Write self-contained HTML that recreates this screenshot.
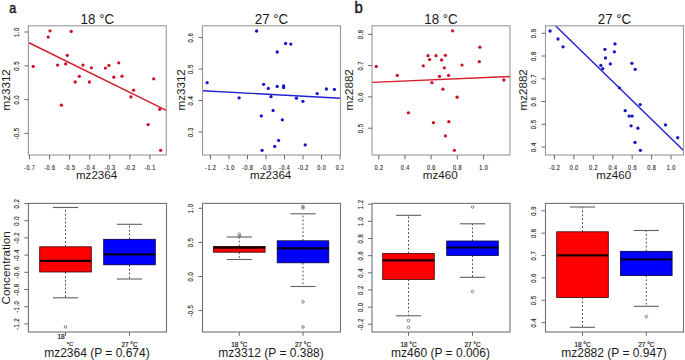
<!DOCTYPE html><html><head><meta charset="utf-8"><style>html,body{margin:0;padding:0;background:#fff;width:685px;height:360px;overflow:hidden}svg{display:block;font-family:"Liberation Sans", sans-serif}</style></head><body>
<svg width="685" height="360" viewBox="0 0 685 360">
<rect width="685" height="360" fill="#fff"/>
<text transform="translate(9.3,13.0) scale(0.82,1)" font-size="15.2" fill="#1a1a1a" stroke="#1a1a1a" stroke-width="0.5">a</text>
<text transform="translate(354.4,12.7) scale(0.93,1)" font-size="16" fill="#1a1a1a" stroke="#1a1a1a" stroke-width="0.5">b</text>
<circle cx="50.0" cy="30.8" r="1.65" fill="#cc1226"/>
<circle cx="71.2" cy="31.4" r="1.65" fill="#cc1226"/>
<circle cx="48.2" cy="37.1" r="1.65" fill="#cc1226"/>
<circle cx="33.2" cy="66.4" r="1.65" fill="#cc1226"/>
<circle cx="57.6" cy="65.1" r="1.65" fill="#cc1226"/>
<circle cx="65.7" cy="63.9" r="1.65" fill="#cc1226"/>
<circle cx="67.3" cy="55.3" r="1.65" fill="#cc1226"/>
<circle cx="83.0" cy="65.1" r="1.65" fill="#cc1226"/>
<circle cx="91.4" cy="67.8" r="1.65" fill="#cc1226"/>
<circle cx="79.3" cy="76.3" r="1.65" fill="#cc1226"/>
<circle cx="75.2" cy="82.0" r="1.65" fill="#cc1226"/>
<circle cx="89.4" cy="82.0" r="1.65" fill="#cc1226"/>
<circle cx="105.4" cy="68.1" r="1.65" fill="#cc1226"/>
<circle cx="108.9" cy="65.4" r="1.65" fill="#cc1226"/>
<circle cx="118.7" cy="62.8" r="1.65" fill="#cc1226"/>
<circle cx="113.8" cy="77.2" r="1.65" fill="#cc1226"/>
<circle cx="122.0" cy="76.2" r="1.65" fill="#cc1226"/>
<circle cx="153.7" cy="78.8" r="1.65" fill="#cc1226"/>
<circle cx="133.6" cy="90.2" r="1.65" fill="#cc1226"/>
<circle cx="130.9" cy="96.9" r="1.65" fill="#cc1226"/>
<circle cx="159.7" cy="109.3" r="1.65" fill="#cc1226"/>
<circle cx="61.4" cy="105.2" r="1.65" fill="#cc1226"/>
<circle cx="148.1" cy="124.6" r="1.65" fill="#cc1226"/>
<circle cx="160.6" cy="150.3" r="1.65" fill="#cc1226"/>
<line x1="28.4" y1="42.5" x2="166.3" y2="110.3" stroke="#d41c2c" stroke-width="1.4"/>
<rect x="28.4" y="25.8" width="137.90" height="129.20" fill="none" stroke="#989898" stroke-width="1.1"/>
<line x1="24.40" y1="32.00" x2="28.40" y2="32.00" stroke="#6a6a6a" stroke-width="1"/>
<text transform="translate(19.10,32.08) rotate(-90) scale(0.76,1)" text-anchor="middle" letter-spacing="0.6" font-size="7.9" fill="#1e1e1e" stroke="#1e1e1e" stroke-width="0.14">1.0</text>
<line x1="24.40" y1="65.80" x2="28.40" y2="65.80" stroke="#6a6a6a" stroke-width="1"/>
<text transform="translate(19.10,65.88) rotate(-90) scale(0.76,1)" text-anchor="middle" letter-spacing="0.6" font-size="7.9" fill="#1e1e1e" stroke="#1e1e1e" stroke-width="0.14">0.5</text>
<line x1="24.40" y1="99.60" x2="28.40" y2="99.60" stroke="#6a6a6a" stroke-width="1"/>
<text transform="translate(19.10,99.68) rotate(-90) scale(0.76,1)" text-anchor="middle" letter-spacing="0.6" font-size="7.9" fill="#1e1e1e" stroke="#1e1e1e" stroke-width="0.14">0.0</text>
<line x1="24.40" y1="133.40" x2="28.40" y2="133.40" stroke="#6a6a6a" stroke-width="1"/>
<text transform="translate(19.10,133.48) rotate(-90) scale(0.76,1)" text-anchor="middle" letter-spacing="0.6" font-size="7.9" fill="#1e1e1e" stroke="#1e1e1e" stroke-width="0.14">-0.5</text>
<line x1="29.50" y1="155.00" x2="29.50" y2="159.40" stroke="#6a6a6a" stroke-width="1"/>
<text transform="translate(29.72,169.60) scale(0.74,1)" text-anchor="middle" letter-spacing="0.6" font-size="7.4" fill="#1e1e1e" stroke="#1e1e1e" stroke-width="0.14">-0.7</text>
<line x1="49.57" y1="155.00" x2="49.57" y2="159.40" stroke="#6a6a6a" stroke-width="1"/>
<text transform="translate(49.79,169.60) scale(0.74,1)" text-anchor="middle" letter-spacing="0.6" font-size="7.4" fill="#1e1e1e" stroke="#1e1e1e" stroke-width="0.14">-0.6</text>
<line x1="69.64" y1="155.00" x2="69.64" y2="159.40" stroke="#6a6a6a" stroke-width="1"/>
<text transform="translate(69.86,169.60) scale(0.74,1)" text-anchor="middle" letter-spacing="0.6" font-size="7.4" fill="#1e1e1e" stroke="#1e1e1e" stroke-width="0.14">-0.5</text>
<line x1="89.71" y1="155.00" x2="89.71" y2="159.40" stroke="#6a6a6a" stroke-width="1"/>
<text transform="translate(89.93,169.60) scale(0.74,1)" text-anchor="middle" letter-spacing="0.6" font-size="7.4" fill="#1e1e1e" stroke="#1e1e1e" stroke-width="0.14">-0.4</text>
<line x1="109.78" y1="155.00" x2="109.78" y2="159.40" stroke="#6a6a6a" stroke-width="1"/>
<text transform="translate(110.00,169.60) scale(0.74,1)" text-anchor="middle" letter-spacing="0.6" font-size="7.4" fill="#1e1e1e" stroke="#1e1e1e" stroke-width="0.14">-0.3</text>
<line x1="129.85" y1="155.00" x2="129.85" y2="159.40" stroke="#6a6a6a" stroke-width="1"/>
<text transform="translate(130.07,169.60) scale(0.74,1)" text-anchor="middle" letter-spacing="0.6" font-size="7.4" fill="#1e1e1e" stroke="#1e1e1e" stroke-width="0.14">-0.2</text>
<line x1="149.92" y1="155.00" x2="149.92" y2="159.40" stroke="#6a6a6a" stroke-width="1"/>
<text transform="translate(150.14,169.60) scale(0.74,1)" text-anchor="middle" letter-spacing="0.6" font-size="7.4" fill="#1e1e1e" stroke="#1e1e1e" stroke-width="0.14">-0.1</text>
<text transform="translate(97.35,23.7) scale(0.92,1)" text-anchor="middle" font-size="14.5" fill="#1a1a1a">18 °C</text>
<text x="96.55" y="179.0" text-anchor="middle" font-size="11.6" fill="#1a1a1a">mz2364</text>
<text transform="translate(10.10,89.8) rotate(-90)" text-anchor="middle" font-size="11.6" fill="#1a1a1a">mz3312</text>
<circle cx="256.6" cy="31.0" r="1.65" fill="#1414c8"/>
<circle cx="207.1" cy="82.7" r="1.65" fill="#1414c8"/>
<circle cx="263.6" cy="84.3" r="1.65" fill="#1414c8"/>
<circle cx="268.3" cy="88.4" r="1.65" fill="#1414c8"/>
<circle cx="285.6" cy="43.5" r="1.65" fill="#1414c8"/>
<circle cx="290.8" cy="44.1" r="1.65" fill="#1414c8"/>
<circle cx="277.2" cy="52.0" r="1.65" fill="#1414c8"/>
<circle cx="277.2" cy="86.4" r="1.65" fill="#1414c8"/>
<circle cx="283.6" cy="85.9" r="1.65" fill="#1414c8"/>
<circle cx="283.6" cy="87.6" r="1.65" fill="#1414c8"/>
<circle cx="326.4" cy="89.0" r="1.65" fill="#1414c8"/>
<circle cx="334.4" cy="89.4" r="1.65" fill="#1414c8"/>
<circle cx="317.2" cy="93.6" r="1.65" fill="#1414c8"/>
<circle cx="239.1" cy="97.8" r="1.65" fill="#1414c8"/>
<circle cx="261.3" cy="115.9" r="1.65" fill="#1414c8"/>
<circle cx="262.1" cy="150.3" r="1.65" fill="#1414c8"/>
<circle cx="271.0" cy="96.7" r="1.65" fill="#1414c8"/>
<circle cx="296.4" cy="98.2" r="1.65" fill="#1414c8"/>
<circle cx="302.9" cy="101.3" r="1.65" fill="#1414c8"/>
<circle cx="273.1" cy="110.5" r="1.65" fill="#1414c8"/>
<circle cx="282.3" cy="119.8" r="1.65" fill="#1414c8"/>
<circle cx="278.6" cy="140.4" r="1.65" fill="#1414c8"/>
<circle cx="274.7" cy="146.4" r="1.65" fill="#1414c8"/>
<circle cx="305.2" cy="144.9" r="1.65" fill="#1414c8"/>
<line x1="202.5" y1="90.8" x2="340.5" y2="98.2" stroke="#2020d0" stroke-width="1.4"/>
<rect x="202.5" y="25.8" width="138.00" height="129.20" fill="none" stroke="#989898" stroke-width="1.1"/>
<line x1="198.50" y1="37.50" x2="202.50" y2="37.50" stroke="#6a6a6a" stroke-width="1"/>
<text transform="translate(193.20,37.58) rotate(-90) scale(0.76,1)" text-anchor="middle" letter-spacing="0.6" font-size="7.9" fill="#1e1e1e" stroke="#1e1e1e" stroke-width="0.14">0.6</text>
<line x1="198.50" y1="69.00" x2="202.50" y2="69.00" stroke="#6a6a6a" stroke-width="1"/>
<text transform="translate(193.20,69.08) rotate(-90) scale(0.76,1)" text-anchor="middle" letter-spacing="0.6" font-size="7.9" fill="#1e1e1e" stroke="#1e1e1e" stroke-width="0.14">0.5</text>
<line x1="198.50" y1="100.50" x2="202.50" y2="100.50" stroke="#6a6a6a" stroke-width="1"/>
<text transform="translate(193.20,100.58) rotate(-90) scale(0.76,1)" text-anchor="middle" letter-spacing="0.6" font-size="7.9" fill="#1e1e1e" stroke="#1e1e1e" stroke-width="0.14">0.4</text>
<line x1="198.50" y1="132.00" x2="202.50" y2="132.00" stroke="#6a6a6a" stroke-width="1"/>
<text transform="translate(193.20,132.08) rotate(-90) scale(0.76,1)" text-anchor="middle" letter-spacing="0.6" font-size="7.9" fill="#1e1e1e" stroke="#1e1e1e" stroke-width="0.14">0.3</text>
<line x1="210.50" y1="155.00" x2="210.50" y2="159.40" stroke="#6a6a6a" stroke-width="1"/>
<text transform="translate(210.72,169.60) scale(0.74,1)" text-anchor="middle" letter-spacing="0.6" font-size="7.4" fill="#1e1e1e" stroke="#1e1e1e" stroke-width="0.14">-1.2</text>
<line x1="229.00" y1="155.00" x2="229.00" y2="159.40" stroke="#6a6a6a" stroke-width="1"/>
<text transform="translate(229.22,169.60) scale(0.74,1)" text-anchor="middle" letter-spacing="0.6" font-size="7.4" fill="#1e1e1e" stroke="#1e1e1e" stroke-width="0.14">-1.0</text>
<line x1="247.50" y1="155.00" x2="247.50" y2="159.40" stroke="#6a6a6a" stroke-width="1"/>
<text transform="translate(247.72,169.60) scale(0.74,1)" text-anchor="middle" letter-spacing="0.6" font-size="7.4" fill="#1e1e1e" stroke="#1e1e1e" stroke-width="0.14">-0.8</text>
<line x1="266.00" y1="155.00" x2="266.00" y2="159.40" stroke="#6a6a6a" stroke-width="1"/>
<text transform="translate(266.22,169.60) scale(0.74,1)" text-anchor="middle" letter-spacing="0.6" font-size="7.4" fill="#1e1e1e" stroke="#1e1e1e" stroke-width="0.14">-0.6</text>
<line x1="284.50" y1="155.00" x2="284.50" y2="159.40" stroke="#6a6a6a" stroke-width="1"/>
<text transform="translate(284.72,169.60) scale(0.74,1)" text-anchor="middle" letter-spacing="0.6" font-size="7.4" fill="#1e1e1e" stroke="#1e1e1e" stroke-width="0.14">-0.4</text>
<line x1="303.00" y1="155.00" x2="303.00" y2="159.40" stroke="#6a6a6a" stroke-width="1"/>
<text transform="translate(303.22,169.60) scale(0.74,1)" text-anchor="middle" letter-spacing="0.6" font-size="7.4" fill="#1e1e1e" stroke="#1e1e1e" stroke-width="0.14">-0.2</text>
<line x1="321.50" y1="155.00" x2="321.50" y2="159.40" stroke="#6a6a6a" stroke-width="1"/>
<text transform="translate(321.72,169.60) scale(0.74,1)" text-anchor="middle" letter-spacing="0.6" font-size="7.4" fill="#1e1e1e" stroke="#1e1e1e" stroke-width="0.14">0.0</text>
<clipPath id="c2"><rect x="330" y="150" width="13.6" height="25"/></clipPath><g clip-path="url(#c2)">
<line x1="340.00" y1="155.00" x2="340.00" y2="159.40" stroke="#6a6a6a" stroke-width="1"/>
<text transform="translate(340.22,169.60) scale(0.74,1)" text-anchor="middle" letter-spacing="0.6" font-size="7.4" fill="#1e1e1e" stroke="#1e1e1e" stroke-width="0.14">0.2</text>
</g>
<text transform="translate(271.50,23.7) scale(0.92,1)" text-anchor="middle" font-size="14.5" fill="#1a1a1a">27 °C</text>
<text x="270.70" y="179.0" text-anchor="middle" font-size="11.6" fill="#1a1a1a">mz2364</text>
<text transform="translate(184.90,89.8) rotate(-90)" text-anchor="middle" font-size="11.6" fill="#1a1a1a">mz3312</text>
<circle cx="376.3" cy="66.4" r="1.65" fill="#cc1226"/>
<circle cx="397.3" cy="75.4" r="1.65" fill="#cc1226"/>
<circle cx="423.3" cy="65.8" r="1.65" fill="#cc1226"/>
<circle cx="428.0" cy="55.7" r="1.65" fill="#cc1226"/>
<circle cx="429.6" cy="59.6" r="1.65" fill="#cc1226"/>
<circle cx="436.0" cy="55.7" r="1.65" fill="#cc1226"/>
<circle cx="441.6" cy="60.0" r="1.65" fill="#cc1226"/>
<circle cx="439.5" cy="76.3" r="1.65" fill="#cc1226"/>
<circle cx="431.9" cy="82.7" r="1.65" fill="#cc1226"/>
<circle cx="452.6" cy="30.8" r="1.65" fill="#cc1226"/>
<circle cx="479.9" cy="47.2" r="1.65" fill="#cc1226"/>
<circle cx="445.4" cy="55.3" r="1.65" fill="#cc1226"/>
<circle cx="444.3" cy="67.8" r="1.65" fill="#cc1226"/>
<circle cx="462.0" cy="65.1" r="1.65" fill="#cc1226"/>
<circle cx="479.3" cy="61.7" r="1.65" fill="#cc1226"/>
<circle cx="448.6" cy="75.4" r="1.65" fill="#cc1226"/>
<circle cx="503.8" cy="80.0" r="1.65" fill="#cc1226"/>
<circle cx="442.9" cy="89.2" r="1.65" fill="#cc1226"/>
<circle cx="408.4" cy="112.8" r="1.65" fill="#cc1226"/>
<circle cx="433.4" cy="122.7" r="1.65" fill="#cc1226"/>
<circle cx="457.1" cy="97.2" r="1.65" fill="#cc1226"/>
<circle cx="448.9" cy="121.7" r="1.65" fill="#cc1226"/>
<circle cx="445.4" cy="135.9" r="1.65" fill="#cc1226"/>
<circle cx="454.4" cy="150.3" r="1.65" fill="#cc1226"/>
<line x1="372.0" y1="82.4" x2="510.0" y2="76.5" stroke="#d41c2c" stroke-width="1.4"/>
<rect x="372.0" y="25.8" width="138.00" height="129.20" fill="none" stroke="#989898" stroke-width="1.1"/>
<line x1="368.00" y1="34.30" x2="372.00" y2="34.30" stroke="#6a6a6a" stroke-width="1"/>
<text transform="translate(362.70,34.38) rotate(-90) scale(0.76,1)" text-anchor="middle" letter-spacing="0.6" font-size="7.9" fill="#1e1e1e" stroke="#1e1e1e" stroke-width="0.14">0.8</text>
<line x1="368.00" y1="65.60" x2="372.00" y2="65.60" stroke="#6a6a6a" stroke-width="1"/>
<text transform="translate(362.70,65.68) rotate(-90) scale(0.76,1)" text-anchor="middle" letter-spacing="0.6" font-size="7.9" fill="#1e1e1e" stroke="#1e1e1e" stroke-width="0.14">0.7</text>
<line x1="368.00" y1="96.90" x2="372.00" y2="96.90" stroke="#6a6a6a" stroke-width="1"/>
<text transform="translate(362.70,96.98) rotate(-90) scale(0.76,1)" text-anchor="middle" letter-spacing="0.6" font-size="7.9" fill="#1e1e1e" stroke="#1e1e1e" stroke-width="0.14">0.6</text>
<line x1="368.00" y1="128.20" x2="372.00" y2="128.20" stroke="#6a6a6a" stroke-width="1"/>
<text transform="translate(362.70,128.28) rotate(-90) scale(0.76,1)" text-anchor="middle" letter-spacing="0.6" font-size="7.9" fill="#1e1e1e" stroke="#1e1e1e" stroke-width="0.14">0.5</text>
<line x1="378.75" y1="155.00" x2="378.75" y2="159.40" stroke="#6a6a6a" stroke-width="1"/>
<text transform="translate(378.97,169.60) scale(0.74,1)" text-anchor="middle" letter-spacing="0.6" font-size="7.4" fill="#1e1e1e" stroke="#1e1e1e" stroke-width="0.14">0.2</text>
<line x1="404.95" y1="155.00" x2="404.95" y2="159.40" stroke="#6a6a6a" stroke-width="1"/>
<text transform="translate(405.17,169.60) scale(0.74,1)" text-anchor="middle" letter-spacing="0.6" font-size="7.4" fill="#1e1e1e" stroke="#1e1e1e" stroke-width="0.14">0.4</text>
<line x1="431.15" y1="155.00" x2="431.15" y2="159.40" stroke="#6a6a6a" stroke-width="1"/>
<text transform="translate(431.37,169.60) scale(0.74,1)" text-anchor="middle" letter-spacing="0.6" font-size="7.4" fill="#1e1e1e" stroke="#1e1e1e" stroke-width="0.14">0.6</text>
<line x1="457.35" y1="155.00" x2="457.35" y2="159.40" stroke="#6a6a6a" stroke-width="1"/>
<text transform="translate(457.57,169.60) scale(0.74,1)" text-anchor="middle" letter-spacing="0.6" font-size="7.4" fill="#1e1e1e" stroke="#1e1e1e" stroke-width="0.14">0.8</text>
<line x1="483.55" y1="155.00" x2="483.55" y2="159.40" stroke="#6a6a6a" stroke-width="1"/>
<text transform="translate(483.77,169.60) scale(0.74,1)" text-anchor="middle" letter-spacing="0.6" font-size="7.4" fill="#1e1e1e" stroke="#1e1e1e" stroke-width="0.14">1.0</text>
<text transform="translate(441.00,23.7) scale(0.92,1)" text-anchor="middle" font-size="14.5" fill="#1a1a1a">18 °C</text>
<text x="440.20" y="179.0" text-anchor="middle" font-size="11.6" fill="#1a1a1a">mz460</text>
<text transform="translate(353.10,89.8) rotate(-90)" text-anchor="middle" font-size="11.6" fill="#1a1a1a">mz2882</text>
<circle cx="550.1" cy="31.0" r="1.65" fill="#1414c8"/>
<circle cx="558.0" cy="39.0" r="1.65" fill="#1414c8"/>
<circle cx="563.1" cy="46.8" r="1.65" fill="#1414c8"/>
<circle cx="604.9" cy="49.3" r="1.65" fill="#1414c8"/>
<circle cx="605.5" cy="57.9" r="1.65" fill="#1414c8"/>
<circle cx="610.3" cy="63.9" r="1.65" fill="#1414c8"/>
<circle cx="600.8" cy="65.4" r="1.65" fill="#1414c8"/>
<circle cx="602.7" cy="68.7" r="1.65" fill="#1414c8"/>
<circle cx="615.0" cy="43.9" r="1.65" fill="#1414c8"/>
<circle cx="614.4" cy="51.8" r="1.65" fill="#1414c8"/>
<circle cx="631.9" cy="63.3" r="1.65" fill="#1414c8"/>
<circle cx="635.2" cy="69.3" r="1.65" fill="#1414c8"/>
<circle cx="619.4" cy="87.8" r="1.65" fill="#1414c8"/>
<circle cx="640.2" cy="104.6" r="1.65" fill="#1414c8"/>
<circle cx="625.2" cy="110.7" r="1.65" fill="#1414c8"/>
<circle cx="629.1" cy="116.1" r="1.65" fill="#1414c8"/>
<circle cx="632.1" cy="116.1" r="1.65" fill="#1414c8"/>
<circle cx="631.1" cy="125.8" r="1.65" fill="#1414c8"/>
<circle cx="637.9" cy="128.2" r="1.65" fill="#1414c8"/>
<circle cx="665.5" cy="124.9" r="1.65" fill="#1414c8"/>
<circle cx="677.7" cy="137.7" r="1.65" fill="#1414c8"/>
<circle cx="635.0" cy="142.4" r="1.65" fill="#1414c8"/>
<circle cx="640.4" cy="150.3" r="1.65" fill="#1414c8"/>
<line x1="555.5" y1="25.8" x2="683.5" y2="150.6" stroke="#2020d0" stroke-width="1.4"/>
<rect x="545.5" y="25.8" width="138.00" height="129.20" fill="none" stroke="#989898" stroke-width="1.1"/>
<line x1="541.50" y1="33.30" x2="545.50" y2="33.30" stroke="#6a6a6a" stroke-width="1"/>
<text transform="translate(536.20,33.38) rotate(-90) scale(0.76,1)" text-anchor="middle" letter-spacing="0.6" font-size="7.9" fill="#1e1e1e" stroke="#1e1e1e" stroke-width="0.14">0.9</text>
<line x1="541.50" y1="56.00" x2="545.50" y2="56.00" stroke="#6a6a6a" stroke-width="1"/>
<text transform="translate(536.20,56.08) rotate(-90) scale(0.76,1)" text-anchor="middle" letter-spacing="0.6" font-size="7.9" fill="#1e1e1e" stroke="#1e1e1e" stroke-width="0.14">0.8</text>
<line x1="541.50" y1="78.80" x2="545.50" y2="78.80" stroke="#6a6a6a" stroke-width="1"/>
<text transform="translate(536.20,78.88) rotate(-90) scale(0.76,1)" text-anchor="middle" letter-spacing="0.6" font-size="7.9" fill="#1e1e1e" stroke="#1e1e1e" stroke-width="0.14">0.7</text>
<line x1="541.50" y1="101.50" x2="545.50" y2="101.50" stroke="#6a6a6a" stroke-width="1"/>
<text transform="translate(536.20,101.58) rotate(-90) scale(0.76,1)" text-anchor="middle" letter-spacing="0.6" font-size="7.9" fill="#1e1e1e" stroke="#1e1e1e" stroke-width="0.14">0.6</text>
<line x1="541.50" y1="124.30" x2="545.50" y2="124.30" stroke="#6a6a6a" stroke-width="1"/>
<text transform="translate(536.20,124.38) rotate(-90) scale(0.76,1)" text-anchor="middle" letter-spacing="0.6" font-size="7.9" fill="#1e1e1e" stroke="#1e1e1e" stroke-width="0.14">0.5</text>
<line x1="541.50" y1="147.00" x2="545.50" y2="147.00" stroke="#6a6a6a" stroke-width="1"/>
<text transform="translate(536.20,147.08) rotate(-90) scale(0.76,1)" text-anchor="middle" letter-spacing="0.6" font-size="7.9" fill="#1e1e1e" stroke="#1e1e1e" stroke-width="0.14">0.4</text>
<line x1="554.50" y1="155.00" x2="554.50" y2="159.40" stroke="#6a6a6a" stroke-width="1"/>
<text transform="translate(554.72,169.60) scale(0.74,1)" text-anchor="middle" letter-spacing="0.6" font-size="7.4" fill="#1e1e1e" stroke="#1e1e1e" stroke-width="0.14">-0.2</text>
<line x1="573.92" y1="155.00" x2="573.92" y2="159.40" stroke="#6a6a6a" stroke-width="1"/>
<text transform="translate(574.14,169.60) scale(0.74,1)" text-anchor="middle" letter-spacing="0.6" font-size="7.4" fill="#1e1e1e" stroke="#1e1e1e" stroke-width="0.14">0.0</text>
<line x1="593.34" y1="155.00" x2="593.34" y2="159.40" stroke="#6a6a6a" stroke-width="1"/>
<text transform="translate(593.56,169.60) scale(0.74,1)" text-anchor="middle" letter-spacing="0.6" font-size="7.4" fill="#1e1e1e" stroke="#1e1e1e" stroke-width="0.14">0.2</text>
<line x1="612.76" y1="155.00" x2="612.76" y2="159.40" stroke="#6a6a6a" stroke-width="1"/>
<text transform="translate(612.98,169.60) scale(0.74,1)" text-anchor="middle" letter-spacing="0.6" font-size="7.4" fill="#1e1e1e" stroke="#1e1e1e" stroke-width="0.14">0.4</text>
<line x1="632.18" y1="155.00" x2="632.18" y2="159.40" stroke="#6a6a6a" stroke-width="1"/>
<text transform="translate(632.40,169.60) scale(0.74,1)" text-anchor="middle" letter-spacing="0.6" font-size="7.4" fill="#1e1e1e" stroke="#1e1e1e" stroke-width="0.14">0.6</text>
<line x1="651.60" y1="155.00" x2="651.60" y2="159.40" stroke="#6a6a6a" stroke-width="1"/>
<text transform="translate(651.82,169.60) scale(0.74,1)" text-anchor="middle" letter-spacing="0.6" font-size="7.4" fill="#1e1e1e" stroke="#1e1e1e" stroke-width="0.14">0.8</text>
<line x1="671.02" y1="155.00" x2="671.02" y2="159.40" stroke="#6a6a6a" stroke-width="1"/>
<text transform="translate(671.24,169.60) scale(0.74,1)" text-anchor="middle" letter-spacing="0.6" font-size="7.4" fill="#1e1e1e" stroke="#1e1e1e" stroke-width="0.14">1.0</text>
<text transform="translate(614.50,23.7) scale(0.92,1)" text-anchor="middle" font-size="14.5" fill="#1a1a1a">27 °C</text>
<text x="613.70" y="179.0" text-anchor="middle" font-size="11.6" fill="#1a1a1a">mz460</text>
<text transform="translate(527.30,89.8) rotate(-90)" text-anchor="middle" font-size="11.6" fill="#1a1a1a">mz2882</text>
<line x1="65.5" y1="246.8" x2="65.5" y2="207.5" stroke="#4a4a4a" stroke-width="1" stroke-dasharray="1.8,2.1"/>
<line x1="65.5" y1="272.0" x2="65.5" y2="297.8" stroke="#4a4a4a" stroke-width="1" stroke-dasharray="1.8,2.1"/>
<line x1="52.9" y1="207.5" x2="78.1" y2="207.5" stroke="#606060" stroke-width="1.1"/>
<line x1="52.9" y1="297.8" x2="78.1" y2="297.8" stroke="#606060" stroke-width="1.1"/>
<rect x="39.70" y="246.8" width="51.60" height="25.20" fill="#ff0000" stroke="#3a0000" stroke-width="0.8"/>
<line x1="39.70" y1="260.8" x2="91.30" y2="260.8" stroke="#1a0000" stroke-width="2.2"/>
<circle cx="65.5" cy="327.0" r="1.3" fill="none" stroke="#666" stroke-width="0.8"/>
<line x1="129.5" y1="239.3" x2="129.5" y2="224.3" stroke="#4a4a4a" stroke-width="1" stroke-dasharray="1.8,2.1"/>
<line x1="129.5" y1="264.8" x2="129.5" y2="279.0" stroke="#4a4a4a" stroke-width="1" stroke-dasharray="1.8,2.1"/>
<line x1="116.9" y1="224.3" x2="142.1" y2="224.3" stroke="#606060" stroke-width="1.1"/>
<line x1="116.9" y1="279.0" x2="142.1" y2="279.0" stroke="#606060" stroke-width="1.1"/>
<rect x="103.70" y="239.3" width="51.60" height="25.50" fill="#0000ff" stroke="#00003a" stroke-width="0.8"/>
<line x1="103.70" y1="254.3" x2="155.30" y2="254.3" stroke="#00001a" stroke-width="2.2"/>
<rect x="28.4" y="203.4" width="138.10" height="128.60" fill="none" stroke="#727272" stroke-width="1.1"/>
<line x1="24.40" y1="203.50" x2="28.40" y2="203.50" stroke="#6a6a6a" stroke-width="1"/>
<text transform="translate(19.10,203.58) rotate(-90) scale(0.76,1)" text-anchor="middle" letter-spacing="0.6" font-size="7.9" fill="#1e1e1e" stroke="#1e1e1e" stroke-width="0.14">0.2</text>
<line x1="24.40" y1="220.70" x2="28.40" y2="220.70" stroke="#6a6a6a" stroke-width="1"/>
<text transform="translate(19.10,220.78) rotate(-90) scale(0.76,1)" text-anchor="middle" letter-spacing="0.6" font-size="7.9" fill="#1e1e1e" stroke="#1e1e1e" stroke-width="0.14">0.0</text>
<line x1="24.40" y1="237.90" x2="28.40" y2="237.90" stroke="#6a6a6a" stroke-width="1"/>
<text transform="translate(19.10,237.98) rotate(-90) scale(0.76,1)" text-anchor="middle" letter-spacing="0.6" font-size="7.9" fill="#1e1e1e" stroke="#1e1e1e" stroke-width="0.14">-0.2</text>
<line x1="24.40" y1="255.10" x2="28.40" y2="255.10" stroke="#6a6a6a" stroke-width="1"/>
<text transform="translate(19.10,255.18) rotate(-90) scale(0.76,1)" text-anchor="middle" letter-spacing="0.6" font-size="7.9" fill="#1e1e1e" stroke="#1e1e1e" stroke-width="0.14">-0.4</text>
<line x1="24.40" y1="272.30" x2="28.40" y2="272.30" stroke="#6a6a6a" stroke-width="1"/>
<text transform="translate(19.10,272.38) rotate(-90) scale(0.76,1)" text-anchor="middle" letter-spacing="0.6" font-size="7.9" fill="#1e1e1e" stroke="#1e1e1e" stroke-width="0.14">-0.6</text>
<line x1="24.40" y1="289.50" x2="28.40" y2="289.50" stroke="#6a6a6a" stroke-width="1"/>
<text transform="translate(19.10,289.58) rotate(-90) scale(0.76,1)" text-anchor="middle" letter-spacing="0.6" font-size="7.9" fill="#1e1e1e" stroke="#1e1e1e" stroke-width="0.14">-0.8</text>
<line x1="24.40" y1="306.70" x2="28.40" y2="306.70" stroke="#6a6a6a" stroke-width="1"/>
<text transform="translate(19.10,306.78) rotate(-90) scale(0.76,1)" text-anchor="middle" letter-spacing="0.6" font-size="7.9" fill="#1e1e1e" stroke="#1e1e1e" stroke-width="0.14">-1.0</text>
<line x1="24.40" y1="323.90" x2="28.40" y2="323.90" stroke="#6a6a6a" stroke-width="1"/>
<text transform="translate(19.10,323.98) rotate(-90) scale(0.76,1)" text-anchor="middle" letter-spacing="0.6" font-size="7.9" fill="#1e1e1e" stroke="#1e1e1e" stroke-width="0.14">-1.2</text>
<line x1="65.50" y1="332.00" x2="65.50" y2="335.80" stroke="#6a6a6a" stroke-width="1"/>
<line x1="129.50" y1="332.00" x2="129.50" y2="335.80" stroke="#6a6a6a" stroke-width="1"/>
<text x="61.10" y="339.2" text-anchor="middle" font-size="6.6" fill="#1e1e1e" stroke="#1e1e1e" stroke-width="0.2">18</text>
<text x="70.10" y="346.4" text-anchor="middle" font-size="6.2" fill="#1e1e1e" stroke="#1e1e1e" stroke-width="0.2">°C</text>
<text x="129.50" y="346.6" text-anchor="middle" font-size="6.4" fill="#1e1e1e" stroke="#1e1e1e" stroke-width="0.2">27 °C</text>
<text x="96.95" y="356.6" text-anchor="middle" font-size="12" fill="#1a1a1a">mz2364 (P = 0.674)</text>
<line x1="239.3" y1="246.4" x2="239.3" y2="237.0" stroke="#4a4a4a" stroke-width="1" stroke-dasharray="1.8,2.1"/>
<line x1="239.3" y1="252.2" x2="239.3" y2="259.5" stroke="#4a4a4a" stroke-width="1" stroke-dasharray="1.8,2.1"/>
<line x1="226.70000000000002" y1="237.0" x2="251.9" y2="237.0" stroke="#606060" stroke-width="1.1"/>
<line x1="226.70000000000002" y1="259.5" x2="251.9" y2="259.5" stroke="#606060" stroke-width="1.1"/>
<rect x="213.50" y="246.4" width="51.60" height="5.80" fill="#ff0000" stroke="#3a0000" stroke-width="0.8"/>
<line x1="213.50" y1="247.6" x2="265.10" y2="247.6" stroke="#1a0000" stroke-width="2.2"/>
<circle cx="239.3" cy="234.3" r="1.3" fill="none" stroke="#666" stroke-width="0.8"/>
<circle cx="239.3" cy="236.3" r="1.3" fill="none" stroke="#666" stroke-width="0.8"/>
<line x1="303.0" y1="240.8" x2="303.0" y2="213.8" stroke="#4a4a4a" stroke-width="1" stroke-dasharray="1.8,2.1"/>
<line x1="303.0" y1="262.8" x2="303.0" y2="286.5" stroke="#4a4a4a" stroke-width="1" stroke-dasharray="1.8,2.1"/>
<line x1="290.4" y1="213.8" x2="315.6" y2="213.8" stroke="#606060" stroke-width="1.1"/>
<line x1="290.4" y1="286.5" x2="315.6" y2="286.5" stroke="#606060" stroke-width="1.1"/>
<rect x="277.20" y="240.8" width="51.60" height="22.00" fill="#0000ff" stroke="#00003a" stroke-width="0.8"/>
<line x1="277.20" y1="248.3" x2="328.80" y2="248.3" stroke="#00001a" stroke-width="2.2"/>
<circle cx="303.0" cy="206.6" r="1.3" fill="none" stroke="#666" stroke-width="0.8"/>
<circle cx="303.0" cy="208.0" r="1.3" fill="none" stroke="#666" stroke-width="0.8"/>
<circle cx="303.0" cy="301.8" r="1.3" fill="none" stroke="#666" stroke-width="0.8"/>
<circle cx="303.0" cy="327.0" r="1.3" fill="none" stroke="#666" stroke-width="0.8"/>
<rect x="202.5" y="203.4" width="138.00" height="128.60" fill="none" stroke="#727272" stroke-width="1.1"/>
<line x1="198.50" y1="208.30" x2="202.50" y2="208.30" stroke="#6a6a6a" stroke-width="1"/>
<text transform="translate(193.20,208.38) rotate(-90) scale(0.76,1)" text-anchor="middle" letter-spacing="0.6" font-size="7.9" fill="#1e1e1e" stroke="#1e1e1e" stroke-width="0.14">1.0</text>
<line x1="198.50" y1="242.40" x2="202.50" y2="242.40" stroke="#6a6a6a" stroke-width="1"/>
<text transform="translate(193.20,242.48) rotate(-90) scale(0.76,1)" text-anchor="middle" letter-spacing="0.6" font-size="7.9" fill="#1e1e1e" stroke="#1e1e1e" stroke-width="0.14">0.5</text>
<line x1="198.50" y1="276.50" x2="202.50" y2="276.50" stroke="#6a6a6a" stroke-width="1"/>
<text transform="translate(193.20,276.58) rotate(-90) scale(0.76,1)" text-anchor="middle" letter-spacing="0.6" font-size="7.9" fill="#1e1e1e" stroke="#1e1e1e" stroke-width="0.14">0.0</text>
<line x1="198.50" y1="310.60" x2="202.50" y2="310.60" stroke="#6a6a6a" stroke-width="1"/>
<text transform="translate(193.20,310.68) rotate(-90) scale(0.76,1)" text-anchor="middle" letter-spacing="0.6" font-size="7.9" fill="#1e1e1e" stroke="#1e1e1e" stroke-width="0.14">-0.5</text>
<line x1="239.30" y1="332.00" x2="239.30" y2="335.80" stroke="#6a6a6a" stroke-width="1"/>
<line x1="303.00" y1="332.00" x2="303.00" y2="335.80" stroke="#6a6a6a" stroke-width="1"/>
<text x="239.30" y="346.6" text-anchor="middle" font-size="6.4" fill="#1e1e1e" stroke="#1e1e1e" stroke-width="0.2">18 °C</text>
<text x="303.00" y="346.6" text-anchor="middle" font-size="6.4" fill="#1e1e1e" stroke="#1e1e1e" stroke-width="0.2">27 °C</text>
<text x="271.00" y="356.6" text-anchor="middle" font-size="12" fill="#1a1a1a">mz3312 (P = 0.388)</text>
<line x1="408.5" y1="253.5" x2="408.5" y2="215.3" stroke="#4a4a4a" stroke-width="1" stroke-dasharray="1.8,2.1"/>
<line x1="408.5" y1="279.4" x2="408.5" y2="315.8" stroke="#4a4a4a" stroke-width="1" stroke-dasharray="1.8,2.1"/>
<line x1="395.9" y1="215.3" x2="421.1" y2="215.3" stroke="#606060" stroke-width="1.1"/>
<line x1="395.9" y1="315.8" x2="421.1" y2="315.8" stroke="#606060" stroke-width="1.1"/>
<rect x="382.70" y="253.5" width="51.60" height="25.90" fill="#ff0000" stroke="#3a0000" stroke-width="0.8"/>
<line x1="382.70" y1="260.3" x2="434.30" y2="260.3" stroke="#1a0000" stroke-width="2.2"/>
<circle cx="408.5" cy="320.5" r="1.3" fill="none" stroke="#666" stroke-width="0.8"/>
<circle cx="408.5" cy="327.3" r="1.3" fill="none" stroke="#666" stroke-width="0.8"/>
<line x1="472.5" y1="241.0" x2="472.5" y2="223.8" stroke="#4a4a4a" stroke-width="1" stroke-dasharray="1.8,2.1"/>
<line x1="472.5" y1="255.5" x2="472.5" y2="277.3" stroke="#4a4a4a" stroke-width="1" stroke-dasharray="1.8,2.1"/>
<line x1="459.9" y1="223.8" x2="485.1" y2="223.8" stroke="#606060" stroke-width="1.1"/>
<line x1="459.9" y1="277.3" x2="485.1" y2="277.3" stroke="#606060" stroke-width="1.1"/>
<rect x="446.70" y="241.0" width="51.60" height="14.50" fill="#0000ff" stroke="#00003a" stroke-width="0.8"/>
<line x1="446.70" y1="247.5" x2="498.30" y2="247.5" stroke="#00001a" stroke-width="2.2"/>
<circle cx="472.5" cy="207.0" r="1.3" fill="none" stroke="#666" stroke-width="0.8"/>
<circle cx="472.5" cy="291.5" r="1.3" fill="none" stroke="#666" stroke-width="0.8"/>
<rect x="372.0" y="203.4" width="138.00" height="128.60" fill="none" stroke="#727272" stroke-width="1.1"/>
<line x1="368.00" y1="204.20" x2="372.00" y2="204.20" stroke="#6a6a6a" stroke-width="1"/>
<text transform="translate(362.70,204.28) rotate(-90) scale(0.76,1)" text-anchor="middle" letter-spacing="0.6" font-size="7.9" fill="#1e1e1e" stroke="#1e1e1e" stroke-width="0.14">1.2</text>
<line x1="368.00" y1="221.35" x2="372.00" y2="221.35" stroke="#6a6a6a" stroke-width="1"/>
<text transform="translate(362.70,221.43) rotate(-90) scale(0.76,1)" text-anchor="middle" letter-spacing="0.6" font-size="7.9" fill="#1e1e1e" stroke="#1e1e1e" stroke-width="0.14">1.0</text>
<line x1="368.00" y1="238.50" x2="372.00" y2="238.50" stroke="#6a6a6a" stroke-width="1"/>
<text transform="translate(362.70,238.58) rotate(-90) scale(0.76,1)" text-anchor="middle" letter-spacing="0.6" font-size="7.9" fill="#1e1e1e" stroke="#1e1e1e" stroke-width="0.14">0.8</text>
<line x1="368.00" y1="255.65" x2="372.00" y2="255.65" stroke="#6a6a6a" stroke-width="1"/>
<text transform="translate(362.70,255.73) rotate(-90) scale(0.76,1)" text-anchor="middle" letter-spacing="0.6" font-size="7.9" fill="#1e1e1e" stroke="#1e1e1e" stroke-width="0.14">0.6</text>
<line x1="368.00" y1="272.80" x2="372.00" y2="272.80" stroke="#6a6a6a" stroke-width="1"/>
<text transform="translate(362.70,272.88) rotate(-90) scale(0.76,1)" text-anchor="middle" letter-spacing="0.6" font-size="7.9" fill="#1e1e1e" stroke="#1e1e1e" stroke-width="0.14">0.4</text>
<line x1="368.00" y1="289.95" x2="372.00" y2="289.95" stroke="#6a6a6a" stroke-width="1"/>
<text transform="translate(362.70,290.03) rotate(-90) scale(0.76,1)" text-anchor="middle" letter-spacing="0.6" font-size="7.9" fill="#1e1e1e" stroke="#1e1e1e" stroke-width="0.14">0.2</text>
<line x1="368.00" y1="307.10" x2="372.00" y2="307.10" stroke="#6a6a6a" stroke-width="1"/>
<text transform="translate(362.70,307.18) rotate(-90) scale(0.76,1)" text-anchor="middle" letter-spacing="0.6" font-size="7.9" fill="#1e1e1e" stroke="#1e1e1e" stroke-width="0.14">0.0</text>
<line x1="368.00" y1="324.25" x2="372.00" y2="324.25" stroke="#6a6a6a" stroke-width="1"/>
<text transform="translate(362.70,324.33) rotate(-90) scale(0.76,1)" text-anchor="middle" letter-spacing="0.6" font-size="7.9" fill="#1e1e1e" stroke="#1e1e1e" stroke-width="0.14">-0.2</text>
<line x1="408.50" y1="332.00" x2="408.50" y2="335.80" stroke="#6a6a6a" stroke-width="1"/>
<line x1="472.50" y1="332.00" x2="472.50" y2="335.80" stroke="#6a6a6a" stroke-width="1"/>
<text x="408.50" y="346.6" text-anchor="middle" font-size="6.4" fill="#1e1e1e" stroke="#1e1e1e" stroke-width="0.2">18 °C</text>
<text x="472.50" y="346.6" text-anchor="middle" font-size="6.4" fill="#1e1e1e" stroke="#1e1e1e" stroke-width="0.2">27 °C</text>
<text x="440.50" y="356.6" text-anchor="middle" font-size="12" fill="#1a1a1a">mz460 (P = 0.006)</text>
<line x1="582.5" y1="231.8" x2="582.5" y2="207.0" stroke="#4a4a4a" stroke-width="1" stroke-dasharray="1.8,2.1"/>
<line x1="582.5" y1="297.5" x2="582.5" y2="327.3" stroke="#4a4a4a" stroke-width="1" stroke-dasharray="1.8,2.1"/>
<line x1="569.9" y1="207.0" x2="595.1" y2="207.0" stroke="#606060" stroke-width="1.1"/>
<line x1="569.9" y1="327.3" x2="595.1" y2="327.3" stroke="#606060" stroke-width="1.1"/>
<rect x="556.70" y="231.8" width="51.60" height="65.70" fill="#ff0000" stroke="#3a0000" stroke-width="0.8"/>
<line x1="556.70" y1="255.3" x2="608.30" y2="255.3" stroke="#1a0000" stroke-width="2.2"/>
<line x1="646.3" y1="251.3" x2="646.3" y2="230.5" stroke="#4a4a4a" stroke-width="1" stroke-dasharray="1.8,2.1"/>
<line x1="646.3" y1="275.5" x2="646.3" y2="306.3" stroke="#4a4a4a" stroke-width="1" stroke-dasharray="1.8,2.1"/>
<line x1="633.6999999999999" y1="230.5" x2="658.9" y2="230.5" stroke="#606060" stroke-width="1.1"/>
<line x1="633.6999999999999" y1="306.3" x2="658.9" y2="306.3" stroke="#606060" stroke-width="1.1"/>
<rect x="620.50" y="251.3" width="51.60" height="24.20" fill="#0000ff" stroke="#00003a" stroke-width="0.8"/>
<line x1="620.50" y1="259.5" x2="672.10" y2="259.5" stroke="#00001a" stroke-width="2.2"/>
<circle cx="646.3" cy="316.5" r="1.3" fill="none" stroke="#666" stroke-width="0.8"/>
<rect x="545.5" y="203.4" width="138.00" height="128.60" fill="none" stroke="#727272" stroke-width="1.1"/>
<line x1="541.50" y1="210.80" x2="545.50" y2="210.80" stroke="#6a6a6a" stroke-width="1"/>
<text transform="translate(536.20,210.88) rotate(-90) scale(0.76,1)" text-anchor="middle" letter-spacing="0.6" font-size="7.9" fill="#1e1e1e" stroke="#1e1e1e" stroke-width="0.14">0.9</text>
<line x1="541.50" y1="233.17" x2="545.50" y2="233.17" stroke="#6a6a6a" stroke-width="1"/>
<text transform="translate(536.20,233.25) rotate(-90) scale(0.76,1)" text-anchor="middle" letter-spacing="0.6" font-size="7.9" fill="#1e1e1e" stroke="#1e1e1e" stroke-width="0.14">0.8</text>
<line x1="541.50" y1="255.54" x2="545.50" y2="255.54" stroke="#6a6a6a" stroke-width="1"/>
<text transform="translate(536.20,255.62) rotate(-90) scale(0.76,1)" text-anchor="middle" letter-spacing="0.6" font-size="7.9" fill="#1e1e1e" stroke="#1e1e1e" stroke-width="0.14">0.7</text>
<line x1="541.50" y1="277.91" x2="545.50" y2="277.91" stroke="#6a6a6a" stroke-width="1"/>
<text transform="translate(536.20,277.99) rotate(-90) scale(0.76,1)" text-anchor="middle" letter-spacing="0.6" font-size="7.9" fill="#1e1e1e" stroke="#1e1e1e" stroke-width="0.14">0.6</text>
<line x1="541.50" y1="300.28" x2="545.50" y2="300.28" stroke="#6a6a6a" stroke-width="1"/>
<text transform="translate(536.20,300.36) rotate(-90) scale(0.76,1)" text-anchor="middle" letter-spacing="0.6" font-size="7.9" fill="#1e1e1e" stroke="#1e1e1e" stroke-width="0.14">0.5</text>
<line x1="541.50" y1="322.65" x2="545.50" y2="322.65" stroke="#6a6a6a" stroke-width="1"/>
<text transform="translate(536.20,322.73) rotate(-90) scale(0.76,1)" text-anchor="middle" letter-spacing="0.6" font-size="7.9" fill="#1e1e1e" stroke="#1e1e1e" stroke-width="0.14">0.4</text>
<line x1="582.50" y1="332.00" x2="582.50" y2="335.80" stroke="#6a6a6a" stroke-width="1"/>
<line x1="646.30" y1="332.00" x2="646.30" y2="335.80" stroke="#6a6a6a" stroke-width="1"/>
<text x="582.50" y="346.6" text-anchor="middle" font-size="6.4" fill="#1e1e1e" stroke="#1e1e1e" stroke-width="0.2">18 °C</text>
<text x="646.30" y="346.6" text-anchor="middle" font-size="6.4" fill="#1e1e1e" stroke="#1e1e1e" stroke-width="0.2">27 °C</text>
<text x="614.00" y="356.6" text-anchor="middle" font-size="12" fill="#1a1a1a">mz2882 (P = 0.947)</text>
<text transform="translate(9.8,267.8) rotate(-90)" text-anchor="middle" font-size="11.8" fill="#1a1a1a">Concentration</text>
</svg></body></html>
